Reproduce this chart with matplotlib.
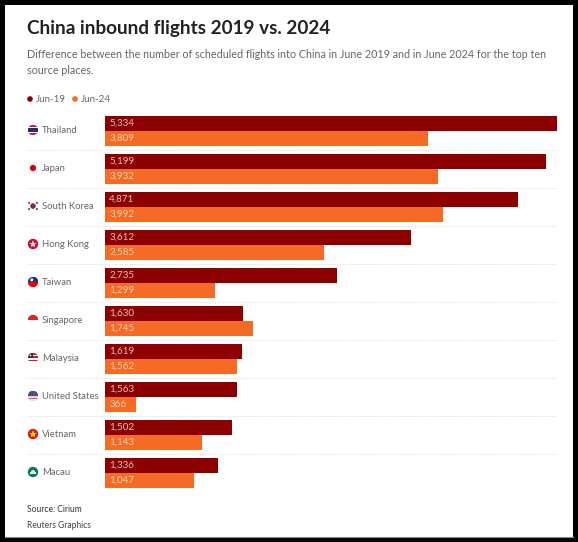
import matplotlib
matplotlib.use("Agg")
import matplotlib.pyplot as plt
from matplotlib.patches import Circle, Rectangle

places = ["Thailand", "Japan", "South Korea", "Hong Kong", "Taiwan",
          "Singapore", "Malaysia", "United States", "Vietnam", "Macau"]
jun19 = [5334, 5199, 4871, 3612, 2735, 1630, 1619, 1563, 1502, 1336]
jun24 = [3809, 3932, 3992, 2585, 1299, 1745, 1562, 366, 1143, 1047]

dark_red = "#8c0000"
orange = "#f56b26"
grey = "#666666"
plt.rcParams["font.family"] = ["Lato", "DejaVu Sans"]

fig = plt.figure(figsize=(5.78, 5.42), dpi=100, facecolor="black")

# whole figure in pixels, for the texts and the flags
bg = fig.add_axes([0, 0, 1, 1])
bg.set_xlim(0, 578)
bg.set_ylim(542, 0)
bg.axis("off")
bg.add_patch(Rectangle((5, 5), 568, 532, color="white", lw=0))
bg.plot([5, 573], [536.5, 536.5], color="#888888", lw=0.8)

bg.text(27, 28.5, "China inbound flights 2019 vs. 2024", fontsize=13.55, fontweight="bold",
        color="#222222", va="center")
bg.text(27, 54.5, "Difference between the number of scheduled flights into China in June 2019 and in June 2024 for the top ten",
        fontsize=7.74, color=grey, va="center")
bg.text(27, 70, "source places.", fontsize=7.74, color=grey, va="center")

bg.add_patch(Circle((30, 99), 2.8, color=dark_red, lw=0))
bg.text(36, 99.5, "Jun-19", fontsize=7.0, color=grey, va="center")
bg.add_patch(Circle((75, 99), 2.8, color=orange, lw=0))
bg.text(81, 99.5, "Jun-24", fontsize=7.0, color=grey, va="center")

bg.text(27, 509, "Source: Cirium", fontsize=6.15, color="#333333", va="center")
bg.text(27, 526, "Reuters Graphics", fontsize=6.15, color="#444444", va="center")


def clipped(patch, cx, cy):
    bg.add_patch(patch)
    patch.set_clip_path(Circle((cx, cy), 5.2, transform=bg.transData))


def stripes(cx, cy, colors):
    # horizontal bands clipped to a round flag
    h = 10.4 / len(colors)
    for n, c in enumerate(colors):
        clipped(Rectangle((cx - 5.2, cy - 5.2 + n * h), 10.4, h, color=c, lw=0), cx, cy)


def flag(name, cx, cy):
    if name == "Thailand":
        stripes(cx, cy, ["#c8202f", "#f4f4f4", "#2d2a6e", "#2d2a6e", "#f4f4f4", "#c8202f"])
    elif name == "Japan":
        bg.add_patch(Circle((cx, cy), 3.1, color="#d8000c", lw=0))
    elif name == "South Korea":
        for dx, dy in [(-3.9, -3), (3.9, -3), (-3.9, 3), (3.9, 3)]:
            bg.add_patch(Circle((cx + dx, cy + dy), 1, color="#444444", lw=0))
        bg.add_patch(Circle((cx, cy), 2.8, color="#d0102a", lw=0))
        bg.add_patch(Rectangle((cx - 2.4, cy), 4.8, 2.4, color="#1f4a9c", lw=0))
    elif name == "Hong Kong":
        bg.add_patch(Circle((cx, cy), 5.2, color="#c8102e", lw=0))
        bg.plot([cx], [cy], marker="*", ms=6, color="#f6dcdc", mew=0)
    elif name == "Taiwan":
        stripes(cx, cy, ["#1f2f8c", "#f00000"])
        clipped(Rectangle((cx + 1, cy - 5.2), 4.2, 5.2, color="#1f2f8c", lw=0), cx, cy)
        bg.add_patch(Circle((cx - 1.2, cy - 2.2), 1.5, color="white", lw=0))
    elif name == "Singapore":
        stripes(cx, cy, ["#e3202c", "#fbfbfb"])
    elif name == "Malaysia":
        stripes(cx, cy, ["#c8202f", "#f4f4f4", "#c8202f", "#f4f4f4", "#c8202f", "#f4f4f4"])
        clipped(Rectangle((cx - 5.2, cy - 5.2), 5.2, 5.2, color="#1c2f7a", lw=0), cx, cy)
        bg.add_patch(Circle((cx - 2.6, cy - 2.6), 1.1, color="#f5c400", lw=0))
    elif name == "United States":
        stripes(cx, cy, ["#c8696f", "#f0d8d8", "#c8696f", "#f0d8d8", "#c8696f", "#f0d8d8"])
        clipped(Rectangle((cx - 5.2, cy - 5.2), 10.4, 5, color="#4a4f86", lw=0), cx, cy)
    elif name == "Vietnam":
        bg.add_patch(Circle((cx, cy), 5.2, color="#da1a20", lw=0))
        bg.plot([cx], [cy], marker="*", ms=6, color="#ffe000", mew=0)
    elif name == "Macau":
        bg.add_patch(Circle((cx, cy), 5.2, color="#0b7a5c", lw=0))
        bg.add_patch(Rectangle((cx - 2.8, cy + 0.2), 5.6, 1.8, color="white", lw=0))
        bg.add_patch(Circle((cx, cy), 1.9, color="white", lw=0))


# bars: axes box in pixels, rows 38 px apart
ax = fig.add_axes([105 / 578, 1 - 492 / 542, 452 / 578, 380 / 542])
ax.set_xlim(0, max(jun19))
ax.set_ylim(9.5, -0.5)
ax.axis("off")
for i, place in enumerate(places):
    ax.barh(i - 0.197, jun19[i], height=0.395, color=dark_red)
    ax.barh(i + 0.197, jun24[i], height=0.395, color=orange)
    ax.annotate(f"{jun19[i]:,}", (0, i - 0.197), xytext=(3, 0), textcoords="offset points",
                fontsize=7.1, color="#e6bcbc", va="center")
    ax.annotate(f"{jun24[i]:,}", (0, i + 0.197), xytext=(3, 0), textcoords="offset points",
                fontsize=7.1, color="#fbcfb2", va="center")

    y = 130 + 38 * i
    flag(place, 33, y)
    bg.text(42, y + 0.5, place, fontsize=6.85, color=grey, va="center")
    if i < 9:
        bg.plot([27, 557], [150 + 38 * i, 150 + 38 * i], color="#cccccc", lw=0.6, ls=(0, (1, 2)))

fig.savefig("out.png", dpi=100, facecolor=fig.get_facecolor())
